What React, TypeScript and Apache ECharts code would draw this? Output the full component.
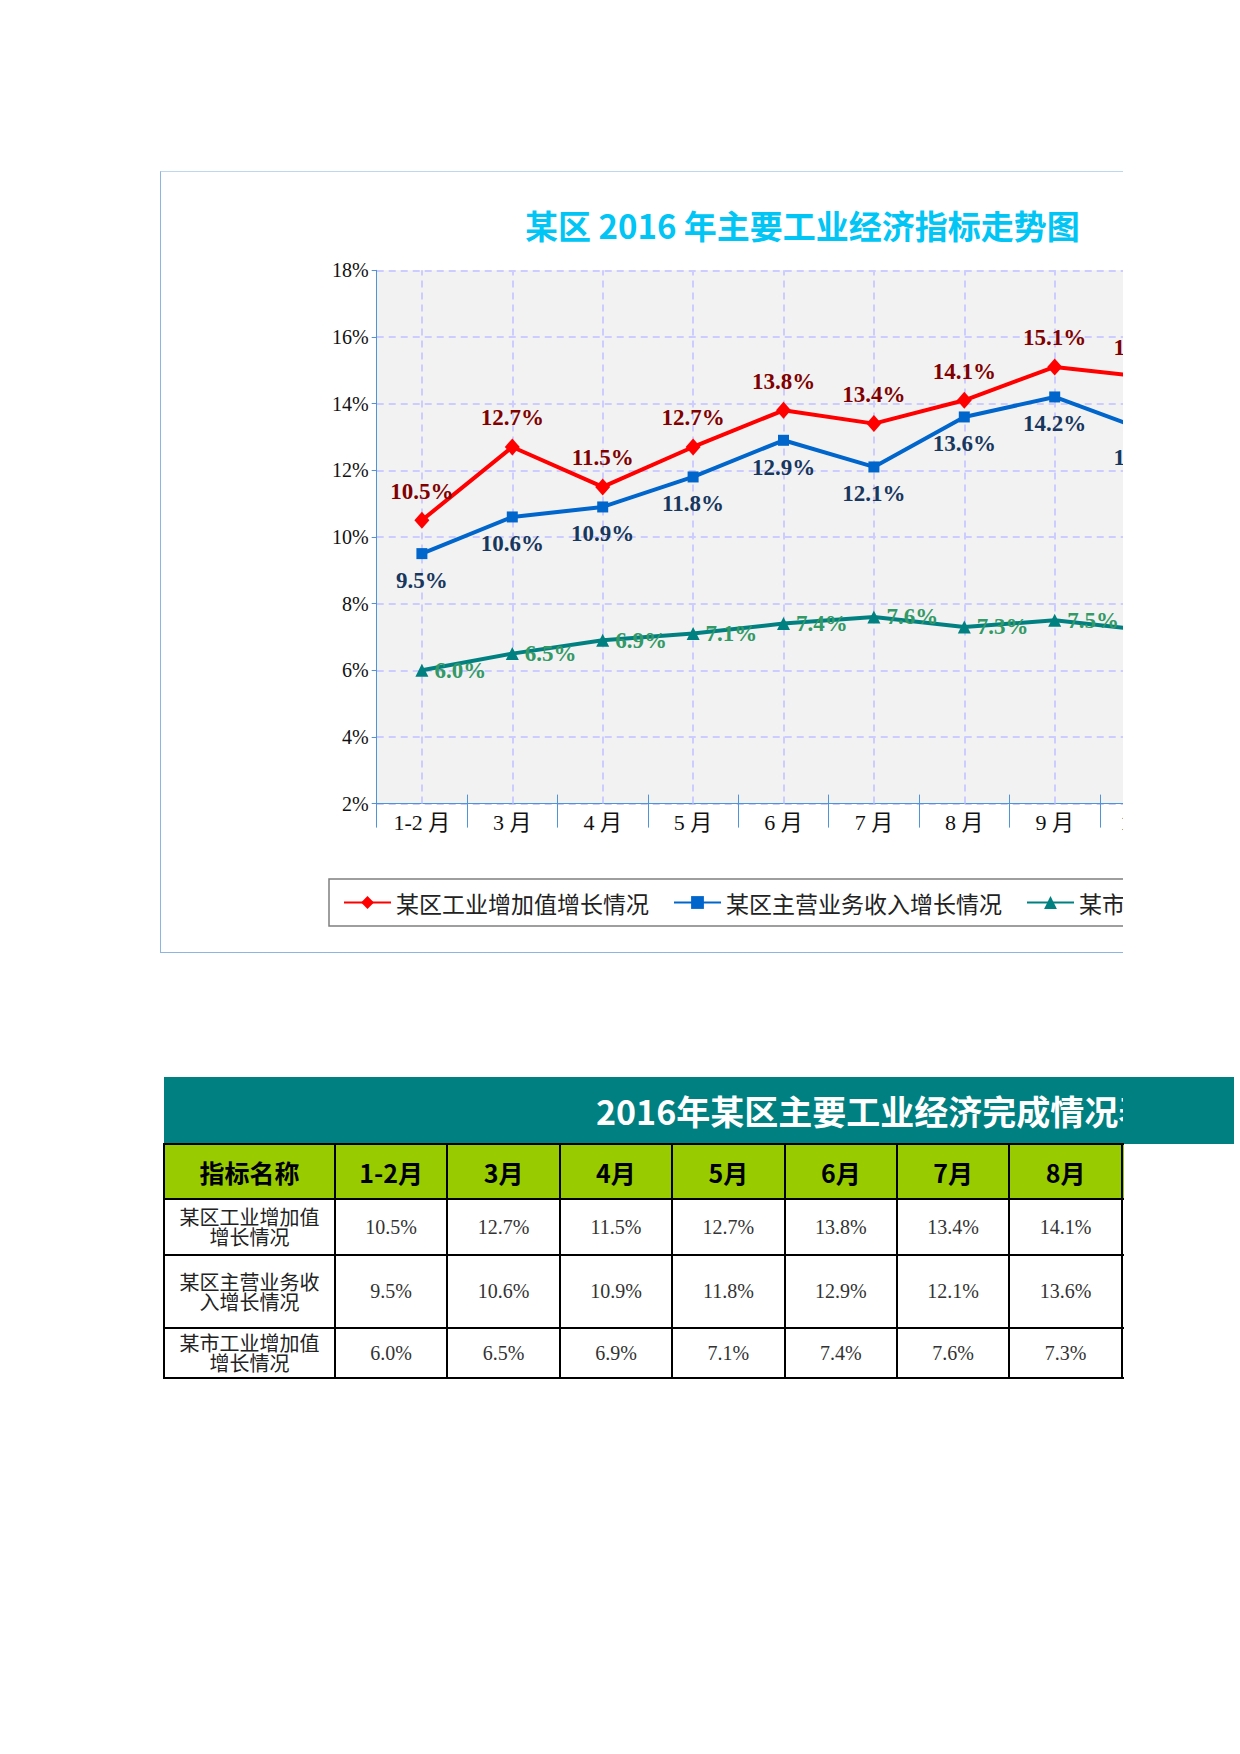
import React, { useEffect, useRef } from "react";
import * as echarts from "echarts";

const categories = ["1-2月", "3月", "4月", "5月", "6月", "7月", "8月", "9月", "10月"];
const seriesNames = ["某区工业增加值增长情况", "某区主营业务收入增长情况", "某市工业增加值增长情况"];
const industryAdded = [10.5, 12.7, 11.5, 12.7, 13.8, 13.4, 14.1, 15.1, 14.8];
const mainBusiness = [9.5, 10.6, 10.9, 11.8, 12.9, 12.1, 13.6, 14.2, 13.2];
const cityAdded = [6.0, 6.5, 6.9, 7.1, 7.4, 7.6, 7.3, 7.5, 7.2];
const tableRowLabels = ["某区工业增加值增长情况", "某区主营业务收入增长情况", "某市工业增加值增长情况"];
const chartTitle = "某区 2016 年主要工业经济指标走势图";
const tableTitle = "2016年某区主要工业经济完成情况表";
const tableHeadFirst = "指标名称";

const SERIF = "'Liberation Serif','DejaVu Serif','Noto Sans CJK SC',serif";
const CJK = "'Noto Sans CJK SC','Noto Sans',sans-serif";
const AXIS_BLUE = "#4F94DA";
const GRID_DASH = "#CCCCFF";

function Chart() {
  const ref = useRef<HTMLDivElement>(null);
  useEffect(() => {
    if (!ref.current) return;
    const chart = echarts.init(ref.current, undefined, { renderer: "svg" });
    const labelFmt = (p: any) => Number(p.value).toFixed(1) + "%";
    chart.setOption({
      animation: false,
      title: {
        text: chartTitle,
        left: 364,
        top: 36,
        padding: 0,
        textStyle: { fontFamily: CJK, fontSize: 33, fontWeight: "bold", color: "#00C5F5" },
      },
      legend: {
        data: seriesNames,
        left: 168,
        top: 707,
        orient: "horizontal",
        padding: [12, 14, 12, 14],
        borderColor: "#7F7F7F",
        borderWidth: 1.5,
        itemGap: 24,
        itemWidth: 47,
        itemHeight: 16,
        textStyle: { fontFamily: CJK, fontSize: 23, color: "#222" },
      },
      grid: {
        left: 215.7,
        top: 98.3,
        width: 813.6,
        height: 533.3,
        show: true,
        backgroundColor: "#F2F2F2",
        borderWidth: 0,
      },
      xAxis: [
        {
          type: "category",
          data: categories,
          boundaryGap: true,
          axisLine: { show: true, lineStyle: { color: AXIS_BLUE, width: 1 } },
          axisTick: { show: true, inside: false, length: 24, lineStyle: { color: AXIS_BLUE } },
          axisLabel: {
            fontFamily: SERIF,
            fontSize: 22,
            color: "#111",
            margin: 8,
            formatter: (v: string) => v.replace("月", " 月"),
          },
          splitLine: { show: false },
        },
        {
          type: "category",
          data: categories,
          position: "bottom",
          boundaryGap: true,
          axisLine: { show: false },
          axisTick: { show: true, inside: true, length: 9, lineStyle: { color: AXIS_BLUE } },
          axisLabel: { show: false },
          splitLine: { show: false },
        },
      ],
      yAxis: {
        type: "value",
        min: 2,
        max: 18,
        interval: 2,
        axisLine: { show: true, lineStyle: { color: AXIS_BLUE, width: 1 } },
        axisTick: { show: true, length: 5, lineStyle: { color: AXIS_BLUE } },
        axisLabel: { fontFamily: SERIF, fontSize: 20, color: "#111", margin: 8, formatter: (v: number) => v + "%" },
        splitLine: { show: true, lineStyle: { color: GRID_DASH, width: 2, type: [7, 5] } },
      },
      series: [
        {
          name: seriesNames[0],
          type: "line",
          data: industryAdded,
          z: 4,
          symbol: "diamond",
          symbolSize: [15, 17],
          itemStyle: { color: "#FF0000" },
          lineStyle: { color: "#FF0000", width: 4 },
          label: {
            show: true,
            position: "top",
            distance: 9,
            formatter: labelFmt,
            fontFamily: SERIF,
            fontWeight: "bold",
            fontSize: 23,
            color: "#800000",
          },
          markLine: {
            silent: true,
            z: 1,
            symbol: ["none", "none"],
            label: { show: false },
            emphasis: { disabled: true },
            lineStyle: { color: GRID_DASH, width: 2, type: [7, 5] },
            data: categories.map((c) => ({ xAxis: c })),
          },
        },
        {
          name: seriesNames[1],
          type: "line",
          data: mainBusiness,
          z: 3,
          symbol: "rect",
          symbolSize: 11,
          itemStyle: { color: "#0066CC" },
          lineStyle: { color: "#0066CC", width: 4 },
          label: {
            show: true,
            position: "bottom",
            distance: 10,
            formatter: labelFmt,
            fontFamily: SERIF,
            fontWeight: "bold",
            fontSize: 23,
            color: "#17375E",
          },
        },
        {
          name: seriesNames[2],
          type: "line",
          data: cityAdded,
          z: 3,
          symbol: "triangle",
          symbolSize: 13,
          itemStyle: { color: "#008080" },
          lineStyle: { color: "#008080", width: 4 },
          label: {
            show: true,
            position: "right",
            distance: 6,
            formatter: labelFmt,
            fontFamily: SERIF,
            fontWeight: "bold",
            fontSize: 23,
            color: "#339966",
          },
        },
      ],
    });
    return () => chart.dispose();
  }, []);
  return <div ref={ref} style={{ width: 1290, height: 780 }} />;
}

function DataTable() {
  const rows = [industryAdded, mainBusiness, cityAdded];
  const firstW = 171;
  const colW = 112.4;
  const rowHeights = [56, 73, 50];
  const cellBorder = "2px solid #000";
  const headStyle: React.CSSProperties = {
    border: cellBorder,
    background: "#99CC00",
    textAlign: "center",
    fontFamily: CJK,
    fontWeight: "bold",
    fontSize: 25,
    color: "#000",
    padding: 0,
  };
  return (
    <>
      <div
        style={{
          position: "absolute",
          left: 164,
          top: 1077,
          width: 1070,
          height: 67,
          background: "#008080",
        }}
      />
      <div
        style={{
          position: "absolute",
          left: 164,
          top: 1077,
          width: 959,
          height: 67,
          overflow: "hidden",
        }}
      >
        <div
          style={{
            position: "absolute",
            left: 432,
            top: 0,
            height: 67,
            lineHeight: "67px",
            whiteSpace: "nowrap",
            fontFamily: CJK,
            fontWeight: "bold",
            fontSize: 34,
            color: "#FFFFFF",
          }}
        >
          {tableTitle}
        </div>
      </div>
      <div
        style={{
          position: "absolute",
          left: 163,
          top: 1143,
          width: 961,
          height: 240,
          overflow: "hidden",
        }}
      >
        <table
          style={{
            borderCollapse: "collapse",
            tableLayout: "fixed",
            width: firstW + colW * categories.length,
          }}
        >
          <colgroup>
            <col style={{ width: firstW }} />
            {categories.map((c) => (
              <col key={c} style={{ width: colW }} />
            ))}
          </colgroup>
          <tbody>
            <tr style={{ height: 55 }}>
              <td style={headStyle}>{tableHeadFirst}</td>
              {categories.map((c) => (
                <td key={c} style={headStyle}>
                  {c}
                </td>
              ))}
            </tr>
            {rows.map((vals, ri) => (
              <tr key={ri} style={{ height: rowHeights[ri] }}>
                <td
                  style={{
                    border: cellBorder,
                    background: "#fff",
                    textAlign: "center",
                    padding: 0,
                  }}
                >
                  <div
                    style={{
                      width: 148,
                      margin: "0 auto",
                      fontFamily: CJK,
                      fontSize: 20,
                      lineHeight: "20px",
                      color: "#222",
                    }}
                  >
                    {tableRowLabels[ri]}
                  </div>
                </td>
                {vals.map((v, ci) => (
                  <td
                    key={ci}
                    style={{
                      border: cellBorder,
                      background: "#fff",
                      textAlign: "center",
                      fontFamily: SERIF,
                      fontSize: 20,
                      color: "#333",
                      padding: 0,
                    }}
                  >
                    {v.toFixed(1) + "%"}
                  </td>
                ))}
              </tr>
            ))}
          </tbody>
        </table>
      </div>
    </>
  );
}

export default function App() {
  return (
    <div style={{ position: "absolute", left: 0, top: 0, width: 1240, height: 1754, background: "#fff" }}>
      <div
        style={{
          position: "absolute",
          left: 160,
          top: 171,
          width: 963,
          height: 782,
          overflow: "hidden",
        }}
      >
        <div
          style={{
            width: 1292,
            height: 782,
            boxSizing: "border-box",
            borderTop: "1px solid #BDD7EE",
            borderLeft: "1px solid #8DB4E2",
            borderBottom: "1px solid #8DB4E2",
            borderRight: "1px solid #8DB4E2",
          }}
        >
          <Chart />
        </div>
      </div>
      <DataTable />
    </div>
  );
}
